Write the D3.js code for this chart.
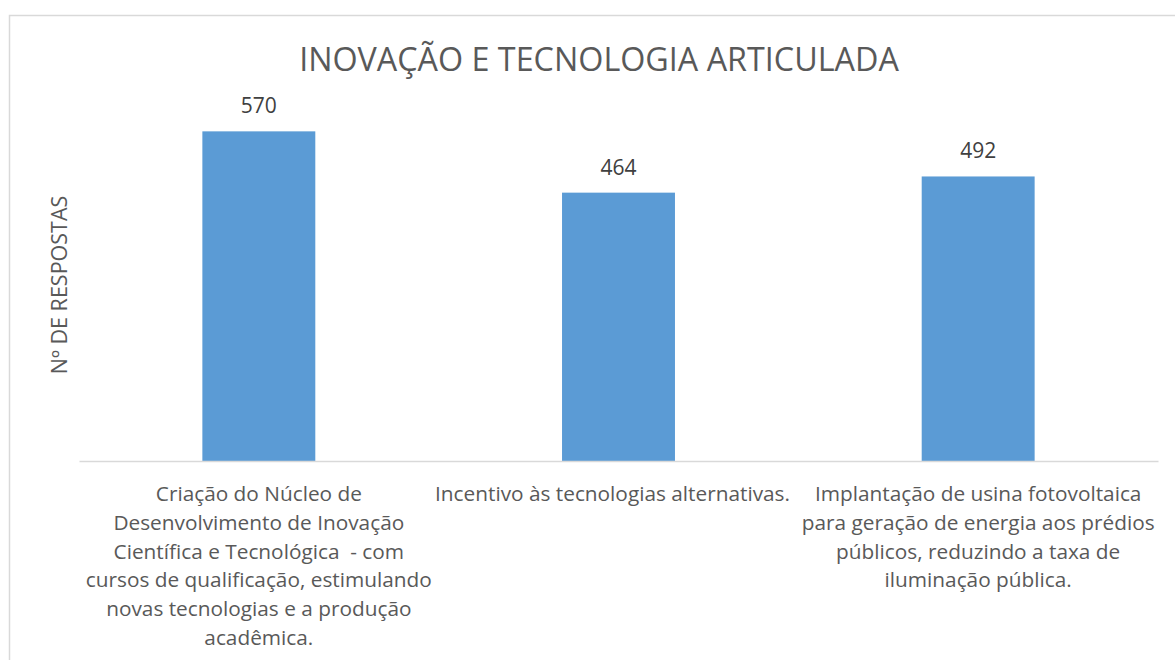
<!DOCTYPE html>
<html>
<head>
<meta charset="utf-8">
<script src="https://cdn.jsdelivr.net/npm/d3@7"></script>
<style>
  html, body { margin: 0; padding: 0; background: #ffffff; }
  svg { display: block; }
  text { white-space: pre; }
</style>
</head>
<body>
<svg id="chart" width="1175" height="660"></svg>
<script>
// Survey answers per proposal
const categories = [
  "Criação do Núcleo de Desenvolvimento de Inovação Científica e Tecnológica  - com cursos de qualificação, estimulando novas tecnologias e a produção acadêmica.",
  "Incentivo às tecnologias alternativas.",
  "Implantação de usina fotovoltaica para geração de energia aos prédios públicos, reduzindo a taxa de iluminação pública."
];
const values = [570, 464, 492];
// Wrapped category labels, one array of lines per category
const categoryLines = [
  ["Criação do Núcleo de", "Desenvolvimento de Inovação", "Científica e Tecnológica  - com", "cursos de qualificação, estimulando", "novas tecnologias e a produção", "acadêmica."],
  ["Incentivo às tecnologias alternativas."],
  ["Implantação de usina fotovoltaica", "para geração de energia aos prédios", "públicos, reduzindo a taxa de", "iluminação pública."]
];
const yDomain = [0, 600];
const titleText = "INOVAÇÃO E TECNOLOGIA ARTICULADA";
const yTitle = "Nº DE RESPOSTAS";

const svg = d3.select("#chart");
const font = "'Open Sans', 'Noto Sans', sans-serif";
const textColor = "#595959";

// chart frame
svg.append("rect")
  .attr("x", 9.5).attr("y", 15.5)
  .attr("width", 1175).attr("height", 660)
  .attr("fill", "#ffffff")
  .attr("stroke", "#d9d9d9").attr("stroke-width", 1.5);

const plot = { left: 79, right: 1158, top: 114, bottom: 461 };

const x = d3.scaleBand()
  .domain(categories)
  .range([plot.left, plot.right])
  .padding(0);

const y = d3.scaleLinear()
  .domain(yDomain)
  .range([plot.bottom, plot.top]);

const barW = x.bandwidth() * 0.314;

// bars
svg.append("g").selectAll("rect")
  .data(values)
  .join("rect")
  .attr("x", (d, i) => x(categories[i]) + x.bandwidth() / 2 - barW / 2)
  .attr("y", d => y(d))
  .attr("width", barW)
  .attr("height", d => y(0) - y(d))
  .attr("fill", "#5b9bd5");

// baseline axis
const xAxis = d3.axisBottom(x).tickSize(0).tickFormat("");
const gx = svg.append("g")
  .attr("transform", `translate(0,${y(0)})`)
  .call(xAxis);
gx.select(".domain").attr("stroke", "#d9d9d9").attr("stroke-width", 1.5);

// category labels
const labels = svg.append("g")
  .selectAll("text")
  .data(categories)
  .join("text")
  .attr("text-anchor", "middle")
  .attr("font-family", font)
  .attr("font-size", 20.8)
  .attr("fill", textColor)
  .attr("y", 501);
labels.each(function(c, i) {
  const cx = x(c) + x.bandwidth() / 2 - (i === 1 ? 6 : 0);
  d3.select(this).selectAll("tspan")
    .data(categoryLines[i])
    .join("tspan")
    .attr("x", cx)
    .attr("dy", (d, j) => j === 0 ? 0 : 28.8)
    .text(d => d);
});

// value labels
svg.append("g").selectAll("text")
  .data(values)
  .join("text")
  .attr("x", (d, i) => x(categories[i]) + x.bandwidth() / 2)
  .attr("y", d => y(d) - 18)
  .attr("text-anchor", "middle")
  .attr("font-family", font)
  .attr("font-size", 21)
  .attr("fill", "#404040")
  .text(d => d);

// title
svg.append("text")
  .attr("x", 599).attr("y", 71)
  .attr("text-anchor", "middle")
  .attr("font-family", font)
  .attr("font-size", 32.3)
  .attr("fill", textColor)
  .text(titleText);

// y axis title
svg.append("text")
  .attr("transform", "translate(67,285) rotate(-90)")
  .attr("text-anchor", "middle")
  .attr("font-family", font)
  .attr("font-size", 21.5)
  .attr("fill", textColor)
  .text(yTitle);
</script>
</body>
</html>
